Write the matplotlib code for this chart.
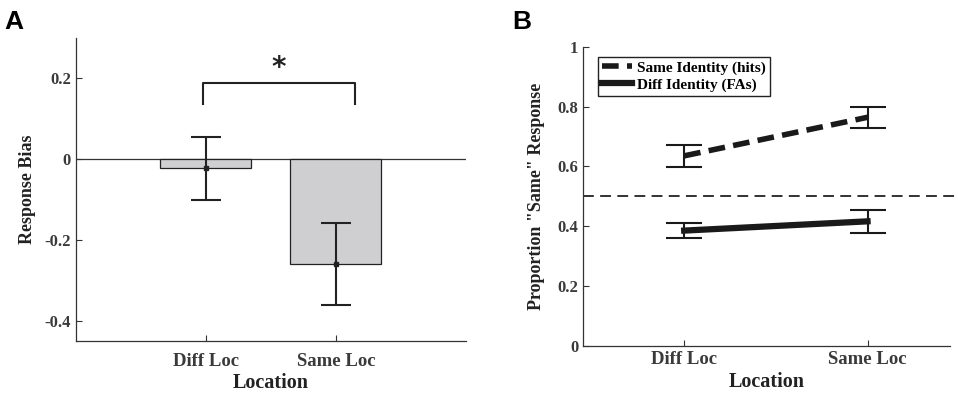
import matplotlib
matplotlib.use("Agg")
import matplotlib.pyplot as plt

plt.rcParams['font.family'] = ['Liberation Serif', 'DejaVu Serif']
plt.rcParams['font.weight'] = 'bold'
plt.rcParams['axes.labelweight'] = 'bold'

# panel A data
locations = ['Diff Loc', 'Same Loc']
bias_mean = [-0.023, -0.260]
bias_err = [0.078, 0.101]

# panel B data
hits_mean = [0.635, 0.764]
hits_err = [0.037, 0.035]
fas_mean = [0.385, 0.416]
fas_err = [0.025, 0.038]
chance = 0.5

tick_color = '#3a3a3a'
x = [1, 2]

fig = plt.figure(figsize=(9.58, 3.96), dpi=100)

# ---- Panel A ----
axA = fig.add_axes([0.0793, 0.139, 0.4071, 0.765])
axA.bar(x, bias_mean, width=0.7, color='#cfcfd1', edgecolor='#222222', linewidth=0.9, zorder=2)
axA.errorbar(x, bias_mean, yerr=bias_err, fmt='s', color='#222222', markersize=2.5,
             elinewidth=1.5, capsize=11, capthick=1.5, zorder=3)
axA.axhline(0, color='#333333', linewidth=0.9, zorder=1)
axA.set_xlim(0, 3)
axA.set_ylim(-0.45, 0.3)
axA.set_yticks([-0.4, -0.2, 0, 0.2])
axA.set_yticklabels(['-0.4', '-0.2', '0', '0.2'])
axA.set_xticks(x)
axA.set_xticklabels(locations)
axA.set_xlabel('Location', fontsize=14.5, labelpad=2)
axA.set_ylabel('Response Bias', fontsize=13, labelpad=6)

# significance bracket
axA.plot([0.98, 0.98, 2.15, 2.15], [0.137, 0.188, 0.188, 0.137], color='#222222', linewidth=1.5)
axA.text(1.56, 0.192, '*', ha='center', va='bottom', fontsize=20, color='#222222',
         family='DejaVu Sans')

# ---- Panel B ----
axB = fig.add_axes([0.6089, 0.127, 0.3828, 0.755])
axB.axhline(chance, color='#222222', linewidth=1.3, linestyle=(0, (6, 3.5)), clip_on=False,
            xmin=0, xmax=1.03)
axB.errorbar(x, hits_mean, yerr=hits_err, color='#1a1a1a', linewidth=4, linestyle=(0, (3, 1.5)),
             elinewidth=1.5, capsize=13, capthick=1.5, label='Same Identity (hits)', zorder=3)
axB.errorbar(x, fas_mean, yerr=fas_err, color='#1a1a1a', linewidth=4.5, linestyle='-',
             elinewidth=1.5, capsize=13, capthick=1.5, label='Diff Identity (FAs)', zorder=3)
axB.set_xlim(0.45, 2.45)
axB.set_ylim(0, 1)
axB.set_yticks([0, 0.2, 0.4, 0.6, 0.8, 1])
axB.set_yticklabels(['0', '0.2', '0.4', '0.6', '0.8', '1'])
axB.set_xticks(x)
axB.set_xticklabels(locations)
axB.set_xlabel('Location', fontsize=14.5, labelpad=3)
axB.set_ylabel('Proportion "Same" Response', fontsize=13, labelpad=9)

handles, labels = axB.get_legend_handles_labels()
handles = [h[0] for h in handles]
leg = axB.legend(handles, labels, loc='upper left', bbox_to_anchor=(0.04, 0.965),
                 fontsize=11, frameon=True, fancybox=False, framealpha=1,
                 handlelength=2.0, handletextpad=0.3, borderpad=0.25, labelspacing=0.2,
                 borderaxespad=0)
leg.get_frame().set_edgecolor('#222222')
leg.get_frame().set_linewidth(1.0)

for ax, xpad in ((axA, 9), (axB, 4)):
    for side in ('top', 'right'):
        ax.spines[side].set_visible(False)
    for side in ('left', 'bottom'):
        ax.spines[side].set_color('#333333')
        ax.spines[side].set_linewidth(0.9)
    ax.tick_params(direction='in', length=4, width=0.8, colors='#333333',
                   labelcolor=tick_color, labelsize=12)
    ax.tick_params(axis='x', labelsize=13.5, pad=xpad)
    ax.xaxis.label.set_color('#222222')
    ax.yaxis.label.set_color('#222222')

fig.text(0.005, 0.975, 'A', fontsize=19, fontweight='bold', family='Liberation Sans', va='top')
fig.text(0.535, 0.975, 'B', fontsize=19, fontweight='bold', family='Liberation Sans', va='top')

fig.savefig('out.png', dpi=100)
